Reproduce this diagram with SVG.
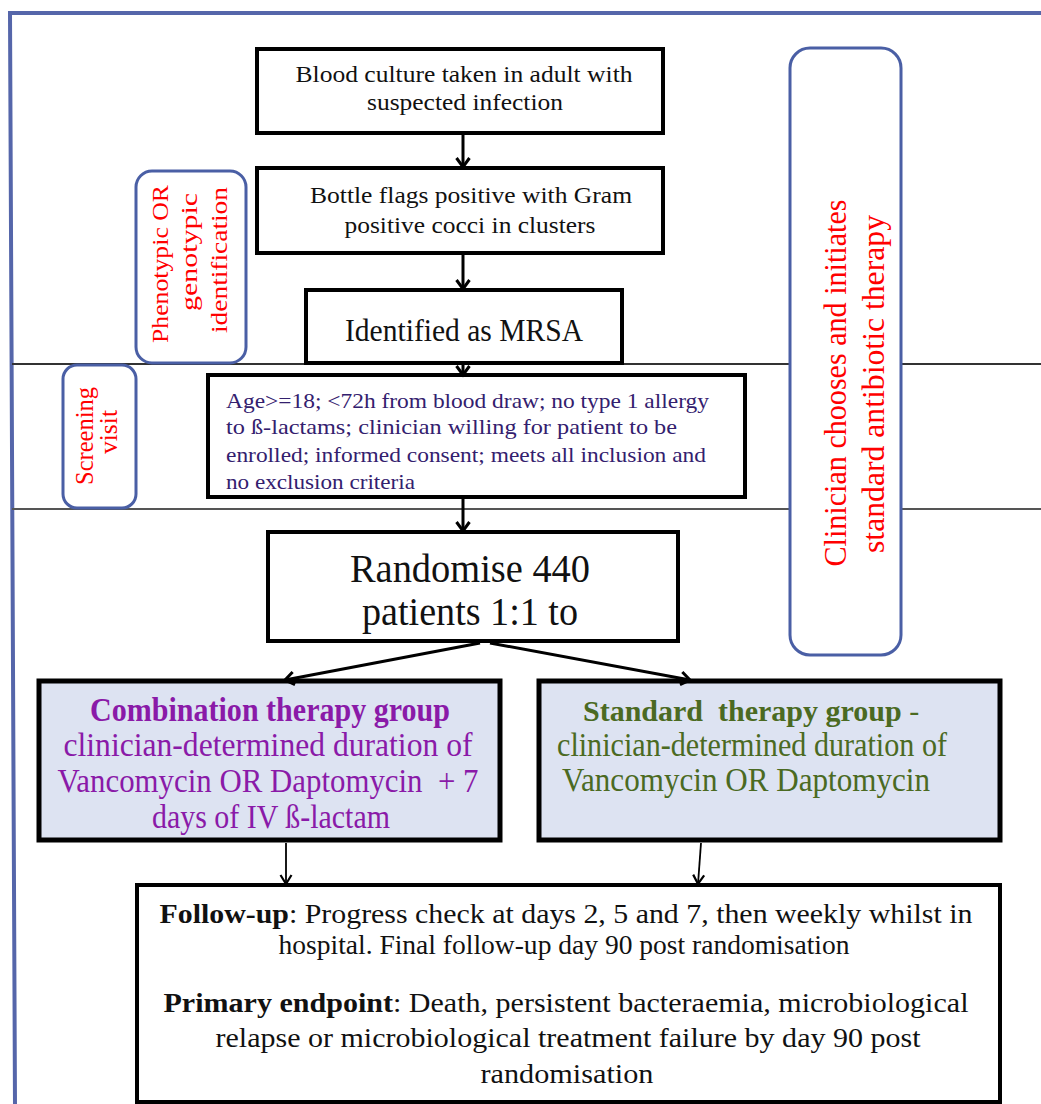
<svg xmlns="http://www.w3.org/2000/svg" width="1041" height="1104" viewBox="0 0 1041 1104" font-family="'Liberation Serif', 'Times New Roman', Times, serif">
<style>
  text { font-family: "Liberation Serif", "Times New Roman", Times, serif; }
  .box { fill: #ffffff; stroke: #000000; stroke-width: 4; }
  .grp { fill: #dde3f2; stroke: #000000; stroke-width: 5; }
  .rbox { fill: #ffffff; stroke: #4a5fa5; stroke-width: 3; }
  .red { fill: #ff0000; }
  .c { text-anchor: middle; }
  .blk { fill: #111111; }
  .crit { fill: #33206e; font-size: 22px; }
  .comb { fill: #8a1aa8; font-size: 33px; }
  .std { fill: #4b6a22; font-size: 33px; }
  .stdh { fill: #4b6a22; font-size: 30px; }
  .fu { fill: #111111; font-size: 27px; }
  .conn { stroke: #000000; fill: none; }
</style>
<defs>
  <marker id="ah" markerWidth="16" markerHeight="16" refX="13" refY="8" orient="auto" markerUnits="userSpaceOnUse" viewBox="0 0 16 16">
    <path d="M4,1.5 L13,8 L4,14.5" fill="none" stroke="#000" stroke-width="3"/>
  </marker>
  <marker id="ahs" markerWidth="14" markerHeight="14" refX="11" refY="7" orient="auto" markerUnits="userSpaceOnUse" viewBox="0 0 14 14">
    <path d="M2,1.5 L11,7 L2,12.5" fill="none" stroke="#000" stroke-width="2.2"/>
  </marker>
</defs>
<rect width="1041" height="1104" fill="#ffffff"/>
<!-- frame -->
<path d="M1041,13 L10,13 L15,1104" fill="none" stroke="#5566aa" stroke-width="4"/>
<!-- swimlane lines -->
<line x1="12" y1="364" x2="1041" y2="364" stroke="#333333" stroke-width="2"/>
<line x1="12" y1="509" x2="1041" y2="509" stroke="#555555" stroke-width="2"/>

<g id="node-phenotypic">
  <rect class="rbox" x="136" y="171" width="110" height="192" rx="16"/>
  <g transform="translate(168,264) rotate(-90)"><text class="red c" font-size="24" textLength="158" lengthAdjust="spacingAndGlyphs">Phenotypic OR</text></g>
  <g transform="translate(197,252) rotate(-90)"><text class="red c" font-size="24" textLength="118" lengthAdjust="spacingAndGlyphs">genotypic</text></g>
  <g transform="translate(227,260) rotate(-90)"><text class="red c" font-size="24" textLength="146" lengthAdjust="spacingAndGlyphs">identification</text></g>
</g>

<g id="node-screening">
  <rect class="rbox" x="63" y="365" width="73" height="143" rx="14"/>
  <g transform="translate(93,436) rotate(-90)"><text class="red c" font-size="25" textLength="98" lengthAdjust="spacingAndGlyphs">Screening</text></g>
  <g transform="translate(117,432) rotate(-90)"><text class="red c" font-size="25" textLength="44" lengthAdjust="spacingAndGlyphs">visit</text></g>
</g>

<g id="node-clinician">
  <rect class="rbox" x="790" y="48" width="111" height="607" rx="20"/>
  <g transform="translate(846,383) rotate(-90)"><text class="red c" font-size="31" textLength="367" lengthAdjust="spacingAndGlyphs">Clinician chooses and initiates</text></g>
  <g transform="translate(884,384) rotate(-90)"><text class="red c" font-size="31" textLength="338" lengthAdjust="spacingAndGlyphs">standard antibiotic therapy</text></g>
</g>

<g id="node-blood">
  <rect class="box" x="257" y="49" width="406" height="84"/>
  <text class="blk c" x="464" y="82" font-size="24" textLength="337" lengthAdjust="spacingAndGlyphs">Blood culture taken in adult with</text>
  <text class="blk c" x="465" y="110" font-size="24" textLength="196" lengthAdjust="spacingAndGlyphs">suspected infection</text>
</g>

<g id="node-bottle">
  <rect class="box" x="257" y="168" width="406" height="85"/>
  <text class="blk c" x="471" y="203" font-size="24" textLength="322" lengthAdjust="spacingAndGlyphs">Bottle flags positive with Gram</text>
  <text class="blk c" x="470" y="233" font-size="24" textLength="251" lengthAdjust="spacingAndGlyphs">positive cocci in clusters</text>
</g>

<g id="node-mrsa">
  <rect class="box" x="306" y="290" width="316" height="73"/>
  <text class="blk c" x="464" y="341" font-size="31" textLength="238" lengthAdjust="spacingAndGlyphs">Identified as MRSA</text>
</g>

<g id="node-criteria">
  <rect class="box" x="208" y="375" width="537" height="122"/>
  <text class="crit" x="226" y="408" textLength="483" lengthAdjust="spacingAndGlyphs" fill="#4a3585">Age&gt;=18; &lt;72h from blood draw; no type 1 allergy</text>
  <text class="crit" x="226" y="434" textLength="451" lengthAdjust="spacingAndGlyphs">to ß-lactams; clinician willing for patient to be</text>
  <text class="crit" x="226" y="462" textLength="480" lengthAdjust="spacingAndGlyphs">enrolled; informed consent; meets all inclusion and</text>
  <text class="crit" x="226" y="489" textLength="189" lengthAdjust="spacingAndGlyphs">no exclusion criteria</text>
</g>

<g id="node-randomise">
  <rect class="box" x="268" y="532" width="410" height="109"/>
  <text class="blk c" x="470" y="582" font-size="40" textLength="240" lengthAdjust="spacingAndGlyphs">Randomise 440</text>
  <text class="blk c" x="470" y="625" font-size="40" textLength="216" lengthAdjust="spacingAndGlyphs">patients 1:1 to</text>
</g>

<g id="node-combination">
  <rect class="grp" x="39" y="681" width="461" height="159"/>
  <text class="comb c" x="270" y="721" font-weight="bold" textLength="360" lengthAdjust="spacingAndGlyphs">Combination therapy group</text>
  <text class="comb c" x="268" y="756" textLength="409" lengthAdjust="spacingAndGlyphs">clinician-determined duration of</text>
  <text class="comb c" x="268" y="792" textLength="421" lengthAdjust="spacingAndGlyphs" xml:space="preserve">Vancomycin OR Daptomycin  + 7</text>
  <text class="comb c" x="271" y="828" textLength="238" lengthAdjust="spacingAndGlyphs">days of IV ß-lactam</text>
</g>

<g id="node-standard">
  <rect class="grp" x="539" y="681" width="461" height="159"/>
  <text class="stdh" x="583" y="721" xml:space="preserve"><tspan font-weight="bold">Standard  therapy group</tspan> -</text>
  <text class="std c" x="752" y="756" textLength="390" lengthAdjust="spacingAndGlyphs">clinician-determined duration of</text>
  <text class="std c" x="746" y="791" textLength="368" lengthAdjust="spacingAndGlyphs">Vancomycin OR Daptomycin</text>
</g>

<g id="node-followup">
  <rect class="box" x="137" y="885" width="863" height="217"/>
  <text class="fu c" x="566" y="923" textLength="813" lengthAdjust="spacingAndGlyphs"><tspan font-weight="bold">Follow-up</tspan>: Progress check at days 2, 5 and 7, then weekly whilst in</text>
  <text class="fu c" x="564" y="954" textLength="571" lengthAdjust="spacingAndGlyphs">hospital. Final follow-up day 90 post randomisation</text>
  <text class="fu c" x="566" y="1012" textLength="805" lengthAdjust="spacingAndGlyphs"><tspan font-weight="bold">Primary endpoint</tspan>: Death, persistent bacteraemia, microbiological</text>
  <text class="fu c" x="568" y="1047" textLength="705" lengthAdjust="spacingAndGlyphs">relapse or microbiological treatment failure by day 90 post</text>
  <text class="fu c" x="567" y="1083" textLength="173" lengthAdjust="spacingAndGlyphs">randomisation</text>
</g>

<g id="connectors">
  <line class="conn" x1="463" y1="133" x2="463" y2="167" stroke-width="3" marker-end="url(#ah)"/>
  <line class="conn" x1="463" y1="253" x2="463" y2="289" stroke-width="3" marker-end="url(#ah)"/>
  <line class="conn" x1="463" y1="365" x2="463" y2="375" stroke-width="3" marker-end="url(#ah)"/>
  <line class="conn" x1="463" y1="499" x2="463" y2="531" stroke-width="3" marker-end="url(#ah)"/>
  <line class="conn" x1="480" y1="643" x2="285" y2="680" stroke-width="3" marker-end="url(#ah)"/>
  <line class="conn" x1="490" y1="643" x2="690" y2="680" stroke-width="3" marker-end="url(#ah)"/>
  <line class="conn" x1="286" y1="843" x2="286" y2="884" stroke-width="1.8" marker-end="url(#ahs)"/>
  <line class="conn" x1="701" y1="843" x2="698" y2="884" stroke-width="1.8" marker-end="url(#ahs)"/>
</g>
</svg>
